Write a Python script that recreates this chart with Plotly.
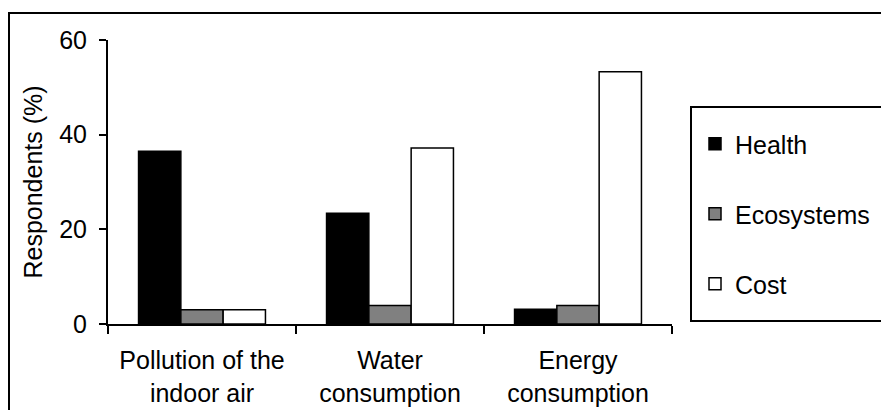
import plotly.graph_objects as go

categories = ["Pollution of the<br>indoor air", "Water<br>consumption", "Energy<br>consumption"]
health = [36.5, 23.4, 3.1]
ecosystems = [3.0, 3.9, 3.9]
cost = [3.0, 37.2, 53.3]
series_names = ["Health", "Ecosystems", "Cost"]
series_colors = ["#000000", "#808080", "#FFFFFF"]
y_ticks = [0, 20, 40, 60]

FONT = "Liberation Sans, Arial, sans-serif"

fig = go.Figure()
for name, vals, col in zip(series_names, [health, ecosystems, cost], series_colors):
    fig.add_trace(go.Bar(
        x=categories, y=vals, name=name, legendgroup=name,
        marker=dict(color=col, line=dict(color="#000000", width=1.5)),
    ))

W, H = 881, 410
L, R, T, B = 108, 209, 40, 86
pw, ph = W - L - R, H - T - B

def px_x(p):
    return (p - L) / pw

def px_y(p):
    return (H - B - p) / ph

fig.update_layout(
    width=W, height=H,
    margin=dict(l=L, r=R, t=T, b=B, pad=0, autoexpand=False),
    paper_bgcolor="white", plot_bgcolor="white",
    font=dict(family=FONT, size=25, color="#000000"),
    barmode="group", bargap=0.325, bargroupgap=0,
    showlegend=True,
    legend=dict(
        x=px_x(695), y=px_y(121), xanchor="left", yanchor="top",
        xref="paper", yref="paper",
        font=dict(family=FONT, size=25, color="#000000"),
        bgcolor="rgba(0,0,0,0)", borderwidth=0,
        tracegroupgap=34.5, traceorder="grouped",
    ),
    xaxis=dict(
        showline=True, linecolor="#000000", linewidth=2,
        ticks="outside", tickson="boundaries", ticklen=8, tickwidth=2, tickcolor="#000000",
        showgrid=False, zeroline=False,
        tickfont=dict(family=FONT, size=25, color="#000000"),
        ticklabelstandoff=13,
    ),
    yaxis=dict(
        range=[0, 60], tickvals=y_ticks, ticktext=[str(v) for v in y_ticks],
        showline=True, linecolor="#000000", linewidth=2,
        ticks="outside", ticklen=7, tickwidth=2, tickcolor="#000000",
        showgrid=False, zeroline=False,
        tickfont=dict(family=FONT, size=25, color="#000000"),
        ticklabelstandoff=7,
        title=dict(text="Respondents (%)", font=dict(family=FONT, size=25, color="#000000"), standoff=9),
    ),
    shapes=[
        dict(type="rect", xref="paper", yref="paper",
             x0=px_x(9), x1=px_x(W + 20), y0=px_y(H + 20), y1=px_y(13),
             line=dict(color="#000000", width=2), fillcolor="rgba(0,0,0,0)", layer="below"),
        dict(type="rect", xref="paper", yref="paper",
             x0=px_x(691), x1=px_x(W + 20), y0=px_y(321), y1=px_y(107),
             line=dict(color="#000000", width=2), fillcolor="rgba(0,0,0,0)", layer="below"),
    ],
)

fig.write_html("out.html")
